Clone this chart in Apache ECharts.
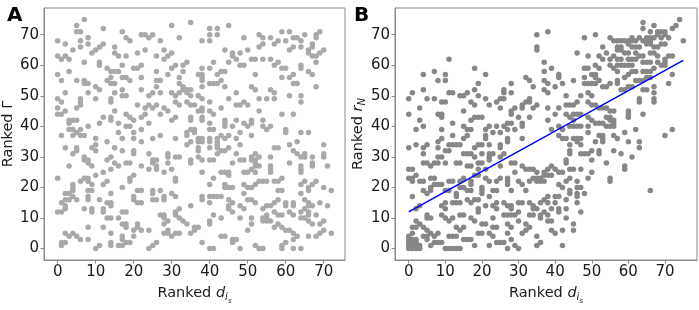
<!DOCTYPE html>
<html><head><meta charset="utf-8">
<script src="https://cdn.jsdelivr.net/npm/echarts@6/dist/echarts.min.js"></script>
<style>html,body{margin:0;padding:0;background:#fff}#c{width:699px;height:310px}</style>
</head><body><div id="c"></div>
<script>
const tickValues = [0,10,20,30,40,50,60,70];
const panelLabels = ['A','B'];

// Panel A: [ranked d_is, ranked Gamma]
const panelA = [
[7,75],[35,74],[30,73],[5,73],[12,72],[5,71],[6,71],[17,71],[22,70],[23,70],[25,70],[24,69],[8,69],[18,69],[32,69],[0,68],[6,68],[19,68],[27,68],[8,67],[2,67],[12,67],[4,65],[6,66],[9,64],[10,65],[11,66],[15,66],[23,65],[21,64],[28,65],[15,64],[16,63],[0,63],[1,62],[2,63],[3,62],[18,63],[26,63],[29,63],[30,64],[28,62],[7,61],[11,61],[11,60],[17,60],[13,59],[14,58],[15,58],[16,58],[20,59],[21,59],[22,60],[26,58],[30,59],[31,60],[33,60],[34,61],[33,58],[3,58],[0,57],[29,57],[14,56],[17,56],[18,56],[13,55],[14,54],[15,54],[7,55],[7,54],[5,55],[1,55],[8,54],[10,53],[11,52],[19,55],[22,56],[26,55],[27,55],[26,53],[32,56],[32,54],[33,53],[34,52],[2,51],[8,51],[15,51],[17,52],[17,50],[18,50],[22,52],[24,50],[25,51],[27,51],[30,51],[31,50],[32,51],[33,52],[34,51],[35,52],[35,50],[0,49],[1,48],[6,49],[6,48],[10,49],[14,49],[14,48],[21,47],[23,46],[24,47],[25,46],[26,47],[28,46],[29,45],[31,48],[32,47],[34,48],[35,47],[0,46],[5,46],[6,47],[0,44],[1,44],[2,45],[15,45],[18,44],[19,43],[20,42],[22,43],[23,44],[27,44],[30,42],[31,43],[3,42],[4,42],[5,42],[3,41],[12,43],[14,43],[14,42],[11,41],[8,40],[16,41],[18,40],[19,40],[22,39],[24,41],[3,39],[4,39],[5,38],[6,39],[16,38],[20,38],[35,42],[35,43],[35,39],[34,38],
[45,73],[40,72],[42,72],[42,70],[40,70],[38,68],[40,68],[49,69],[53,70],[54,69],[56,69],[57,67],[58,68],[59,71],[61,71],[60,68],[62,69],[63,69],[64,68],[64,66],[69,71],[67,67],[67,66],[66,65],[66,64],[67,63],[68,63],[69,64],[61,65],[62,66],[53,66],[54,67],[44,65],[46,64],[46,63],[47,62],[48,64],[50,65],[51,62],[52,62],[54,62],[56,62],[57,60],[58,61],[59,59],[60,59],[64,60],[64,59],[66,58],[67,57],[68,61],[48,60],[49,60],[41,61],[45,61],[38,59],[40,59],[37,57],[38,57],[38,56],[38,55],[42,57],[43,58],[44,58],[52,57],[59,56],[61,56],[62,57],[62,54],[63,54],[68,53],[40,54],[41,54],[42,54],[43,55],[38,53],[44,53],[51,53],[52,52],[56,52],[57,51],[47,51],[37,50],[38,49],[61,50],[64,50],[64,48],[45,49],[53,49],[55,49],[57,49],[47,47],[48,47],[49,48],[50,47],[40,48],[36,47],[37,45],[38,45],[38,46],[40,45],[41,44],[43,46],[53,45],[59,44],[62,44],[38,43],[38,42],[40,41],[44,42],[44,41],[47,42],[49,41],[50,40],[51,41],[51,42],[54,42],[54,40],[55,39],[56,40],[40,39],[41,39],[44,40],[46,40],[60,39],[60,38],[64,38],[66,38],[48,38],[36,39],[36,38],[65,70],[68,69],[70,65],[68,70],
[1,37],[4,37],[5,38],[6,37],[7,37],[10,36],[13,35],[17,36],[20,36],[22,35],[25,36],[27,37],[31,36],[34,37],[34,34],[35,35],[2,33],[5,33],[5,32],[4,31],[9,33],[10,34],[10,32],[15,33],[17,32],[20,32],[20,31],[24,31],[25,29],[26,29],[29,31],[29,30],[31,30],[32,30],[7,30],[7,29],[8,29],[8,28],[9,27],[3,27],[13,29],[14,30],[15,28],[14,26],[16,27],[18,28],[19,28],[22,27],[24,26],[25,28],[26,27],[26,26],[28,25],[29,28],[30,26],[35,28],[35,29],[0,23],[4,21],[4,20],[4,19],[6,22],[7,23],[8,23],[8,22],[9,21],[10,24],[12,25],[13,22],[12,21],[8,19],[9,19],[2,18],[3,18],[4,17],[1,15],[2,16],[3,16],[5,16],[8,17],[8,16],[11,16],[13,15],[14,15],[14,18],[17,20],[19,23],[19,22],[20,24],[21,19],[22,19],[20,16],[20,17],[21,15],[22,15],[25,19],[25,18],[27,19],[28,17],[28,16],[25,16],[26,16],[30,18],[31,17],[31,22],[31,23],[35,14],[31,12],[32,13],[27,11],[28,11],[28,10],[29,9],[28,8],[31,11],[32,10],[33,9],[34,8],[35,5],[36,7],[14,14],[17,12],[18,12],[16,10],[12,13],[12,12],[2,14],[2,13],[1,12],[0,12],[7,13],[9,13],[9,12],[13,10],[14,10],[8,7],[12,7],[17,8],[18,8],[18,7],[21,8],[21,7],[14,5],[20,6],[17,4],[17,3],[18,2],[19,2],[20,4],[22,6],[24,6],[2,5],[3,4],[4,5],[5,4],[6,3],[1,2],[1,1],[2,2],[8,3],[10,0],[11,1],[14,2],[14,1],[16,1],[17,1],[24,0],[25,1],[26,2],[28,5],[29,5],[30,4],[31,5],[32,5],[29,6],
[37,36],[37,35],[38,36],[38,35],[40,36],[40,35],[42,36],[42,35],[42,34],[42,33],[43,37],[44,36],[45,37],[47,36],[51,37],[48,34],[45,33],[44,32],[43,32],[42,31],[40,33],[37,33],[37,32],[37,30],[38,29],[40,29],[41,29],[46,28],[47,31],[48,29],[49,29],[51,30],[52,31],[53,30],[51,29],[52,29],[52,28],[52,27],[56,30],[57,33],[58,33],[61,34],[63,35],[62,32],[63,31],[64,30],[65,31],[65,30],[67,30],[67,28],[67,27],[70,34],[71,27],[61,28],[64,27],[64,26],[64,25],[56,27],[56,26],[56,25],[53,27],[52,25],[49,25],[50,25],[51,26],[45,25],[45,24],[43,25],[44,25],[38,25],[40,21],[41,23],[44,21],[44,20],[45,20],[46,20],[49,21],[50,20],[51,20],[52,21],[53,22],[54,22],[55,22],[57,22],[58,22],[59,23],[64,21],[65,22],[66,19],[66,20],[67,21],[68,22],[70,20],[72,19],[49,18],[58,19],[59,19],[64,18],[38,17],[38,16],[40,15],[40,17],[41,17],[42,17],[43,17],[45,16],[46,15],[50,16],[51,16],[52,15],[56,14],[57,15],[58,16],[60,15],[60,14],[62,15],[62,14],[65,16],[66,15],[67,14],[69,15],[45,14],[45,13],[46,12],[48,14],[49,13],[54,13],[55,14],[57,12],[58,11],[59,11],[55,11],[55,10],[54,10],[61,12],[62,11],[64,12],[65,13],[66,14],[66,12],[66,11],[65,10],[66,9],[67,8],[68,11],[41,11],[40,9],[40,8],[43,10],[48,10],[51,10],[51,8],[54,9],[55,9],[56,9],[57,7],[58,8],[60,6],[61,6],[62,5],[63,4],[62,3],[59,7],[37,7],[36,6],[50,6],[43,4],[44,4],[46,3],[46,2],[47,3],[38,2],[40,0],[41,0],[48,0],[52,1],[53,0],[54,0],[59,1],[59,0],[60,2],[62,0],[64,0],[66,4],[68,4],[69,5],[70,9],[69,8],[64,10],[70,6],[72,5],[71,14],[70,31],[70,30]
];

// Panel B: [ranked d_is, ranked r_N]
const panelB = [
[11,62],[18,59],[35,70],[35,66],[35,65],[38,71],[37,61],[37,58],[4,57],[7,58],[8,55],[10,57],[10,55],[21,57],[19,54],[1,51],[0,49],[4,52],[5,49],[7,49],[9,48],[10,48],[11,51],[12,51],[14,50],[15,50],[16,51],[17,48],[18,47],[18,52],[19,50],[21,49],[22,47],[24,48],[25,49],[26,49],[26,52],[26,51],[28,51],[28,54],[25,46],[31,47],[31,46],[32,48],[32,56],[33,55],[34,53],[33,49],[33,48],[34,46],[35,47],[37,55],[37,52],[0,44],[3,46],[3,42],[4,40],[8,44],[9,44],[9,43],[15,45],[17,42],[18,43],[19,43],[20,43],[22,40],[24,40],[26,40],[27,41],[28,41],[28,45],[28,44],[29,46],[31,41],[31,40],[30,43],[33,43],[2,39],[9,39],[12,41],[15,40],[16,39],[17,39],[21,39],[23,38],[25,38],[27,39],[29,39],[38,42],
[74,75],[72,72],[73,73],[75,68],[64,74],[67,73],[64,72],[66,71],[68,71],[69,71],[70,71],[68,70],[69,69],[70,70],[71,69],[65,69],[66,69],[67,69],[61,69],[62,68],[63,69],[64,68],[65,68],[66,68],[48,69],[51,70],[55,69],[56,68],[57,68],[58,68],[59,68],[60,68],[61,68],[57,66],[58,66],[57,65],[58,65],[60,67],[61,66],[62,66],[63,66],[65,67],[66,67],[67,66],[68,66],[69,67],[70,67],[53,66],[54,64],[59,64],[60,64],[62,64],[63,63],[64,63],[66,64],[67,64],[68,63],[70,62],[71,63],[72,63],[52,63],[53,62],[55,62],[56,63],[57,62],[58,62],[60,62],[61,62],[62,62],[64,61],[65,61],[66,61],[68,61],[69,60],[70,61],[70,60],[49,63],[46,64],[51,60],[52,59],[48,59],[49,59],[55,60],[57,60],[58,60],[59,60],[60,60],[61,60],[56,59],[57,58],[61,58],[62,58],[64,58],[65,58],[66,58],[67,59],[39,59],[41,57],[41,56],[42,54],[45,55],[48,56],[48,54],[49,54],[50,54],[51,54],[52,55],[51,56],[50,57],[51,57],[53,53],[54,53],[55,54],[57,55],[57,54],[58,52],[59,52],[60,53],[61,53],[59,56],[60,57],[62,55],[63,55],[64,55],[65,56],[66,56],[64,52],[65,52],[67,53],[67,51],[71,54],[72,57],[38,54],[40,53],[38,51],[43,50],[47,50],[49,51],[50,50],[46,48],[45,47],[41,46],[43,47],[44,47],[38,46],[49,48],[50,47],[51,47],[52,46],[53,46],[54,46],[55,45],[56,45],[54,43],[55,43],[49,43],[50,42],[51,41],[52,41],[53,41],[47,44],[45,44],[46,44],[44,43],[45,42],[43,44],[40,44],[49,40],[46,40],[45,40],[47,40],[41,40],[42,39],[44,40],[39,39],[54,40],[55,40],[56,40],[56,41],[55,42],[56,42],[60,45],[60,44],[60,43],[63,49],[63,48],[64,44],[67,49],[67,48],[62,39],[72,39],
[0,33],[2,34],[4,33],[5,34],[8,35],[9,36],[8,33],[11,34],[12,34],[13,34],[14,34],[12,37],[15,36],[16,37],[18,33],[19,34],[21,37],[21,36],[20,34],[22,34],[25,34],[25,33],[27,36],[27,35],[31,36],[23,31],[22,31],[22,30],[22,29],[17,31],[18,30],[20,31],[19,28],[19,26],[20,28],[8,30],[9,30],[10,32],[11,32],[7,28],[4,31],[5,28],[4,28],[8,28],[10,28],[13,28],[14,28],[15,31],[16,31],[16,27],[17,27],[26,31],[25,30],[28,28],[29,28],[25,27],[21,26],[31,27],[32,26],[33,26],[34,26],[35,25],[36,23],[35,23],[37,25],[36,22],[37,22],[0,26],[1,26],[0,23],[1,23],[1,22],[1,17],[2,24],[3,22],[4,22],[6,27],[6,23],[7,23],[4,19],[6,20],[6,19],[7,21],[8,21],[9,21],[5,18],[10,19],[11,19],[11,22],[12,22],[14,22],[15,23],[17,22],[17,21],[18,24],[19,24],[14,20],[15,20],[20,20],[20,19],[21,23],[22,22],[24,22],[25,23],[27,23],[27,22],[27,21],[29,25],[30,22],[31,21],[33,22],[34,23],[35,22],[32,19],[28,19],[23,19],[24,19],[20,18],[16,19],[17,19],[13,18],[13,17],[12,15],[13,15],[14,15],[10,15],[9,14],[10,13],[16,16],[17,15],[18,16],[19,16],[22,17],[21,14],[24,15],[23,14],[26,15],[27,14],[28,14],[28,13],[30,15],[31,15],[33,15],[34,14],[37,16],[36,15],[2,13],[3,14],[5,11],[5,10],[6,10],[2,9],[3,8],[1,7],[2,7],[4,7],[9,11],[10,10],[12,10],[11,9],[13,7],[15,7],[17,10],[18,9],[14,11],[15,11],[19,13],[19,12],[24,13],[26,11],[27,11],[23,10],[28,11],[29,11],[30,12],[34,13],[35,13],[33,11],[34,11],[36,11],[36,10],[23,7],[24,7],[20,8],[21,8],[27,8],[28,7],[30,9],
[0,0],[0,1],[0,2],[0,3],[0,4],[1,0],[1,1],[1,2],[1,3],[2,0],[2,1],[2,2],[2,3],[3,0],[3,1],[1,5],[5,6],[6,5],[7,4],[8,5],[5,4],[5,3],[4,4],[6,1],[7,2],[8,2],[9,2],[11,4],[12,4],[13,4],[14,6],[15,3],[16,3],[17,3],[10,0],[11,0],[12,0],[13,0],[14,0],[18,1],[19,5],[20,5],[22,5],[23,4],[24,2],[25,2],[26,2],[22,1],[27,5],[28,3],[29,1],[31,5],[32,6],[33,7],[35,4],[36,2],[27,0],[30,0],[35,1],[32,8],
[41,37],[42,36],[43,36],[45,36],[46,36],[47,36],[46,35],[49,38],[52,37],[53,37],[53,36],[53,35],[51,35],[56,37],[57,36],[59,38],[60,35],[63,35],[63,33],[70,37],[44,34],[47,34],[44,32],[44,31],[47,31],[48,31],[49,31],[50,32],[52,32],[52,31],[56,32],[58,31],[61,30],[54,28],[59,27],[59,26],[66,19],[43,29],[43,28],[50,29],[39,27],[38,26],[39,24],[38,24],[37,24],[40,26],[41,25],[42,25],[44,26],[45,26],[47,26],[50,25],[49,23],[55,23],[55,22],[44,23],[46,22],[43,22],[41,21],[42,20],[44,19],[44,18],[46,20],[47,20],[46,18],[48,18],[40,17],[41,17],[43,16],[46,17],[46,15],[38,17],[38,15],[40,15],[39,13],[41,13],[41,12],[43,13],[47,12],[37,12],[38,11],[38,9],[39,9],[43,10],[45,8],[45,6],[39,6],[40,5],[42,6],[42,1]
];

// Fitted line in panel B
const fitX = [0, 75];
const fitY = [12.0, 61.6];

const FONT = 'DejaVu Sans';
const AXC = '#8a8a8a';
const TXT = '#1a1a1a';

function richName(base, main, sub, subsub) {
  let s = '{t|' + base + '}{m|' + main + '}';
  if (sub) s += '{s|' + sub + '}';
  if (subsub) s += '{ss|' + subsub + '}';
  return s;
}
const richStyles = {
  t: {fontSize: 14.5, fontFamily: FONT, color: TXT},
  m: {fontSize: 14.5, fontFamily: FONT, fontStyle: 'italic', color: TXT},
  s: {fontSize: 10, fontFamily: FONT, fontStyle: 'italic', color: TXT, padding: [8,0,0,0]},
  ss: {fontSize: 7, fontFamily: FONT, fontStyle: 'italic', color: TXT, padding: [16,0,0,0]}
};

function xAxis(gi, min, max) {
  return {
    type: 'value', gridIndex: gi, min: min, max: max,
    axisLine: {show: true, onZero: false, lineStyle: {color: AXC, width: 1}},
    axisTick: {show: true, inside: false, length: 3.5, customValues: tickValues, lineStyle: {color: AXC}},
    axisLabel: {customValues: tickValues, margin: 5, fontSize: 15, fontFamily: FONT, color: TXT},
    splitLine: {show: false},
    name: richName('Ranked ', 'd', 'i', 's'),
    nameLocation: 'middle', nameGap: 22,
    nameTextStyle: {rich: richStyles}
  };
}
function yAxis(gi, min, max, nm) {
  return {
    type: 'value', gridIndex: gi, min: min, max: max,
    axisLine: {show: true, onZero: false, lineStyle: {color: AXC, width: 1}},
    axisTick: {show: true, inside: false, length: 3.5, customValues: tickValues, lineStyle: {color: AXC}},
    axisLabel: {customValues: tickValues, margin: 5, fontSize: 15, fontFamily: FONT, color: TXT},
    splitLine: {show: false},
    name: nm, nameLocation: 'middle', nameGap: 24,
    nameTextStyle: {rich: richStyles}
  };
}

const chart = echarts.init(document.getElementById('c'), null, {renderer: 'canvas'});
chart.setOption({
  animation: false,
  backgroundColor: '#fff',
  title: [
    {text: panelLabels[0], left: 2, top: 1, textStyle: {fontSize: 20, fontWeight: 'bold', fontFamily: FONT, color: '#000'}},
    {text: panelLabels[1], left: 349, top: 1, textStyle: {fontSize: 20, fontWeight: 'bold', fontFamily: FONT, color: '#000'}}
  ],
  grid: [
    {left: 43, top: 8, width: 302, height: 262, show: true, borderColor: AXC, borderWidth: 1, backgroundColor: 'transparent'},
    {left: 395, top: 8, width: 302, height: 262, show: true, borderColor: AXC, borderWidth: 1, backgroundColor: 'transparent'}
  ],
  xAxis: [xAxis(0, -3.6, 75.6), xAxis(1, -3.75, 78.75)],
  yAxis: [
    yAxis(0, -3.75, 78.75, '{t|Ranked Γ}'),
    yAxis(1, -3.75, 78.75, richName('Ranked ', 'r', 'N'))
  ],
  series: [
    {type: 'scatter', xAxisIndex: 0, yAxisIndex: 0, data: panelA, symbolSize: 5.5,
     itemStyle: {color: '#a9a9a9', opacity: 1}},
    {type: 'scatter', xAxisIndex: 1, yAxisIndex: 1, data: panelB, symbolSize: 5.5,
     itemStyle: {color: '#878787', opacity: 1}},
    {type: 'line', xAxisIndex: 1, yAxisIndex: 1, data: fitX.map((x, i) => [x, fitY[i]]),
     showSymbol: false, symbol: 'none', lineStyle: {color: '#0000ff', width: 1.5}, z: 5}
  ]
});
</script>
</body></html>
